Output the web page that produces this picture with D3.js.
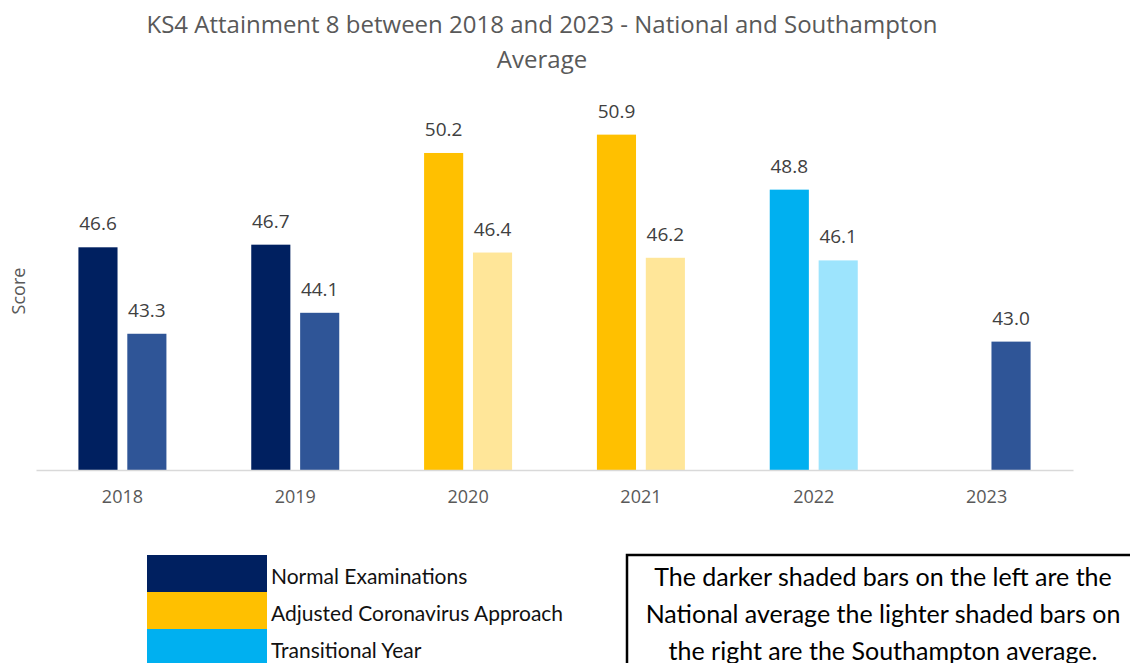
<!DOCTYPE html>
<html>
<head>
<meta charset="utf-8">
<script src="https://cdn.jsdelivr.net/npm/d3@7"></script>
<style>
  html, body { margin: 0; padding: 0; background: #fff; }
  svg { display: block; }
</style>
</head>
<body>
<svg id="chart" width="1130" height="663"></svg>
<script>
// ---- data ----
const years = ["2018", "2019", "2020", "2021", "2022", "2023"];
const nationalValues = [46.6, 46.7, 50.2, 50.9, 48.8, null];
const southamptonValues = [43.3, 44.1, 46.4, 46.2, 46.1, 43.0];
const yearTypes = ["normal", "normal", "covid", "covid", "transitional", "normal"];
const legendLabels = ["Normal Examinations", "Adjusted Coronavirus Approach", "Transitional Year"];
const legendKeys = ["normal", "covid", "transitional"];
const titleLines = ["KS4 Attainment 8 between 2018 and 2023 - National and Southampton", "Average"];
const noteLines = ["The darker shaded bars on the left are the", "National average the lighter shaded bars on", "the right are the Southampton average."];

const darkColors = { normal: "#002060", covid: "#FFC000", transitional: "#00B0F0" };
const lightColors = { normal: "#2F5597", covid: "#FFE699", transitional: "#9DE4FD" };

const svg = d3.select("#chart");
const left = 36, right = 1073, baseY = 470;
const yMin = 38.1, yMax = 52;

const x = d3.scaleBand().domain(years).range([left, right]);
const sub = d3.scaleBand().domain(["national", "southampton"]).range([x.bandwidth()/2 - 44, x.bandwidth()/2 + 44]).paddingInner(0.2);
const y = d3.scaleLinear().domain([yMin, yMax]).range([baseY, baseY - (yMax - yMin) * 26.2]);

const rows = years.map((yr, i) => ({ year: yr, type: yearTypes[i], national: nationalValues[i], southampton: southamptonValues[i] }));

// title
svg.append("g").selectAll("text").data(titleLines).join("text")
  .attr("x", 542).attr("y", (d, i) => 33 + i * 35)
  .attr("text-anchor", "middle")
  .attr("font-family", "'Open Sans', sans-serif")
  .attr("font-size", 24)
  .attr("fill", "#595959")
  .text(d => d);

// y label
svg.append("text")
  .attr("transform", "translate(25,291) rotate(-90)")
  .attr("text-anchor", "middle")
  .attr("font-family", "'Open Sans', sans-serif")
  .attr("font-size", 18)
  .attr("fill", "#595959")
  .text("Score");

// bars
const groups = svg.append("g").selectAll("g").data(rows).join("g")
  .attr("transform", d => `translate(${x(d.year)},0)`);

const barData = d => [
  { key: "national", v: d.national, color: darkColors[d.type] },
  { key: "southampton", v: d.southampton, color: (d.year === "2023" ? lightColors.normal : lightColors[d.type]) }
].filter(b => b.v != null);

groups.selectAll("rect").data(barData).join("rect")
  .attr("x", b => sub(b.key))
  .attr("width", sub.bandwidth())
  .attr("y", b => y(b.v))
  .attr("height", b => y(yMin) - y(b.v))
  .attr("fill", b => b.color);

groups.selectAll("text").data(barData).join("text")
  .attr("x", b => sub(b.key) + sub.bandwidth() / 2)
  .attr("y", b => y(b.v) - 17)
  .attr("text-anchor", "middle")
  .attr("font-family", "'Open Sans', sans-serif")
  .attr("font-size", 19)
  .attr("fill", "#404040")
  .text(b => b.v.toFixed(1));

// x axis
const xAxis = svg.append("g").attr("transform", `translate(0,${baseY})`)
  .call(d3.axisBottom(x).tickSize(0).tickPadding(20));
xAxis.select(".domain").attr("stroke", "#D9D9D9").attr("stroke-width", 1.5);
xAxis.selectAll("text")
  .attr("font-family", "'Open Sans', sans-serif")
  .attr("font-size", 18)
  .attr("fill", "#595959");

// legend
const leg = svg.append("g").selectAll("g").data(legendKeys).join("g")
  .attr("transform", (d, i) => `translate(147,${555 + i * 37})`);
leg.append("rect").attr("width", 120).attr("height", 37).attr("fill", d => darkColors[d]);
leg.append("text").data(legendLabels)
  .attr("x", 124).attr("y", 29)
  .attr("font-family", "Lato, sans-serif")
  .attr("font-size", 21)
  .attr("fill", "#111")
  .text(d => d);

// note box
svg.append("rect")
  .attr("x", 627).attr("y", 555).attr("width", 520).attr("height", 130)
  .attr("fill", "none").attr("stroke", "#000").attr("stroke-width", 2.5);
svg.append("g").selectAll("text").data(noteLines).join("text")
  .attr("x", 883).attr("y", (d, i) => 586 + i * 37)
  .attr("text-anchor", "middle")
  .attr("font-family", "Lato, sans-serif")
  .attr("font-size", 25)
  .attr("fill", "#000")
  .text(d => d);
</script>
</body>
</html>
